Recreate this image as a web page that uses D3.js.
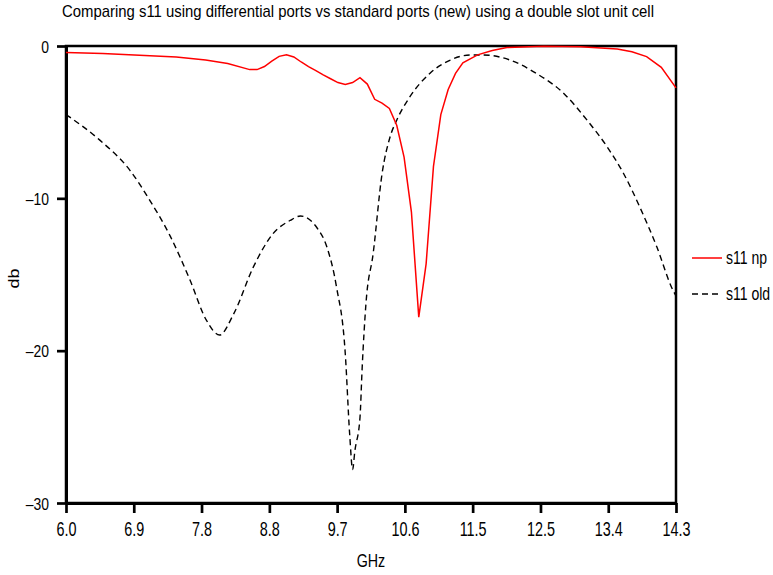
<!DOCTYPE html>
<html>
<head>
<meta charset="utf-8">
<script src="https://cdn.jsdelivr.net/npm/d3@7"></script>
<style>
  body { margin: 0; background: #fff; }
  text { font-family: "Liberation Sans", Arial, sans-serif; fill: #000; }
</style>
</head>
<body>
<div id="chart"></div>
<script>
// s11 np (new, differential ports) - GHz / dB
const npFreq = [6.0, 6.5, 7.0, 7.5, 7.9, 8.2, 8.5, 8.6, 8.7, 8.8, 8.9, 9.0, 9.1, 9.2, 9.3, 9.4, 9.5, 9.6, 9.7, 9.8,
  9.9, 10.0, 10.1, 10.2, 10.3, 10.4, 10.5, 10.6, 10.7, 10.8, 10.9, 11.0, 11.1, 11.2, 11.3, 11.4, 11.6, 11.8,
  12.0, 12.5, 13.0, 13.5, 13.7, 13.9, 14.1, 14.3]
const npDb = [-0.42, -0.5, -0.6, -0.72, -0.92, -1.15, -1.55, -1.55, -1.35, -1.0, -0.68, -0.57, -0.72, -1.05, -1.35, -1.62, -1.9, -2.15, -2.4, -2.52,
  -2.4, -2.08, -2.5, -3.5, -3.75, -4.1, -5.2, -7.3, -10.9, -17.8, -14.3, -7.9, -4.5, -2.85, -1.8, -1.1, -0.58, -0.3,
  -0.1, -0.02, -0.05, -0.2, -0.38, -0.7, -1.4, -2.75]

// s11 old (standard ports)
const oldFreq = [6.0, 6.46, 6.87, 7.14, 7.42, 7.69, 7.91, 8.09, 8.28, 8.55, 8.82, 9.05, 9.19, 9.41, 9.55, 9.68, 9.8, 9.86,
  9.9, 9.93, 10.0, 10.03, 10.08, 10.18, 10.3, 10.41, 10.5, 10.68, 10.95, 11.23, 11.5, 11.68, 12.04, 12.4, 12.77,
  13.09, 13.36, 13.59, 13.81, 14.04, 14.26, 14.3]
const oldDb = [-4.5, -6.18, -8.16, -10.13, -12.5, -15.4, -18.0, -18.97, -17.6, -14.5, -12.3, -11.45, -11.16, -11.9, -13.2, -15.8, -20.2, -25.5,
  -27.8, -26.6, -24.4, -21.1, -17.0, -13.6, -8.4, -5.96, -4.87, -3.33, -1.8, -0.92, -0.59, -0.59, -0.92, -1.8, -3.1,
  -4.87, -6.6, -8.4, -10.6, -13.2, -16.05, -16.4]

const xTicks = [6.0, 6.922, 7.844, 8.767, 9.689, 10.611, 11.533, 12.456, 13.378, 14.3]
const yTicks = [0, -10, -20, -30]

const seriesNames = ['s11 np', 's11 old']

const margin = {top: 46, right: 97, bottom: 72, left: 66}
const width = 773 - margin.left - margin.right
const height = 575 - margin.top - margin.bottom

const svg = d3.select('#chart').append('svg')
  .attr('width', 773)
  .attr('height', 575)

const g = svg.append('g')
  .attr('transform', `translate(${margin.left},${margin.top})`)

const x = d3.scaleLinear().domain([6.0, 14.3]).range([0, width])
const y = d3.scaleLinear().domain([-30, 0]).range([height, 0])

const np = npFreq.map((f, i) => ({f, v: npDb[i]}))
const old = oldFreq.map((f, i) => ({f, v: oldDb[i]}))

// squeeze text horizontally, the original uses a narrow face
function narrow(sel, k) {
  sel.each(function() {
    const t = d3.select(this)
    const tx = +t.attr('x') || 0
    t.attr('x', tx / k).attr('transform', `scale(${k},1)`)
  })
}

// frame
g.append('rect')
  .attr('width', width)
  .attr('height', height)
  .attr('fill', 'none')
  .attr('stroke', '#000')
  .attr('stroke-width', 2.5)

const dash = s => s.replace('-', '\u2013')

const xAxis = g.append('g')
  .attr('transform', `translate(0,${height})`)
  .call(d3.axisBottom(x).tickValues(xTicks).tickFormat(d3.format('.1f')).tickSize(10).tickPadding(9).tickSizeOuter(0))
const yAxis = g.append('g')
  .call(d3.axisLeft(y).tickValues(yTicks).tickFormat(d => dash(String(d))).tickSize(9).tickPadding(8).tickSizeOuter(0))

;[xAxis, yAxis].forEach(a => {
  a.attr('font-family', null)
  a.select('.domain').attr('stroke-width', 3)
  a.selectAll('.tick line').attr('stroke-width', 2.7)
})
xAxis.selectAll('text').attr('font-size', 20)
narrow(xAxis.selectAll('text'), 0.72)
yAxis.selectAll('text').attr('font-size', 17).attr('dy', '0.36em')
narrow(yAxis.selectAll('text'), 0.82)

const line = d3.line().x(d => x(d.f)).y(d => y(d.v))

g.append('path')
  .datum(old)
  .attr('fill', 'none')
  .attr('stroke', '#000')
  .attr('stroke-width', 1.4)
  .attr('stroke-dasharray', '6,4')
  .attr('d', line.curve(d3.curveMonotoneX))

g.append('path')
  .datum(np)
  .attr('fill', 'none')
  .attr('stroke', '#f00')
  .attr('stroke-width', 1.5)
  .attr('d', d3.line().x(d => x(d.f)).y(d => y(d.v)))

// labels
svg.append('text')
  .attr('x', 62)
  .attr('y', 17)
  .attr('font-size', 17)
  .attr('textLength', 592)
  .attr('lengthAdjust', 'spacingAndGlyphs')
  .text('Comparing s11 using differential ports vs standard ports (new) using a double slot unit cell')

const xLabel = svg.append('text')
  .attr('x', 371)
  .attr('y', 567)
  .attr('text-anchor', 'middle')
  .attr('font-size', 19)
  .text('GHz')
narrow(xLabel, 0.75)

svg.append('text')
  .attr('transform', `translate(19,${margin.top + height / 2 + 4}) rotate(-90) scale(1,0.8)`)
  .attr('text-anchor', 'middle')
  .attr('font-size', 18)
  .text('db')

// legend
const legend = svg.append('g').attr('transform', 'translate(692,258)')
seriesNames.forEach((name, i) => {
  const row = legend.append('g').attr('transform', `translate(0,${i * 36})`)
  row.append('line')
    .attr('x1', 0).attr('x2', 30)
    .attr('stroke', i === 0 ? '#f00' : '#000')
    .attr('stroke-width', 1.5)
    .attr('stroke-dasharray', i === 0 ? null : '6,4')
  const t = row.append('text')
    .attr('x', 34)
    .attr('dy', '0.36em')
    .attr('font-size', 18)
    .text(name)
  narrow(t, 0.78)
})
</script>
</body>
</html>
